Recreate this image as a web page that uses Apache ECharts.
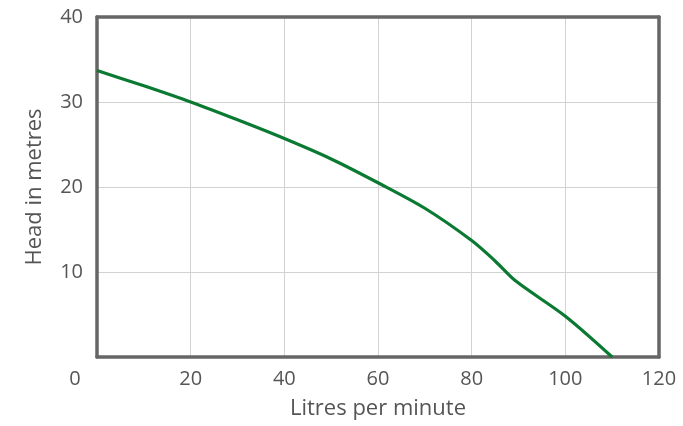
<!DOCTYPE html>
<html><head><meta charset="utf-8">
<script src="https://cdn.jsdelivr.net/npm/echarts@6/dist/echarts.min.js"></script>
<style>html,body{margin:0;padding:0;background:#fff}#c{width:683px;height:426px}</style>
</head><body><div id="c"></div>
<script>
const flowLpm = [0, 10, 20, 30, 40, 50, 60, 70, 80, 85, 89.5, 100, 110];
const headM   = [33.7, 31.9, 30.0, 27.9, 25.7, 23.3, 20.5, 17.5, 13.7, 11.3, 8.9, 4.8, 0];
const xTicks = [0, 20, 40, 60, 80, 100, 120];
const yTicks = [10, 20, 30, 40];
const xName = 'Litres per minute';
const yName = 'Head in metres';

const FONT = '"Open Sans", "Noto Sans", sans-serif';
const TXT = '#555';
const FRAME = {show: true, onZero: false, lineStyle: {color: '#666', width: 3.5}};
const chart = echarts.init(document.getElementById('c'), null, {renderer: 'canvas'});
chart.setOption({
  animation: false,
  grid: {left: 97, right: 24, top: 17, bottom: 69},
  xAxis: [{
    type: 'value', min: 0, max: 120, interval: 20,
    name: xName, nameLocation: 'middle', nameGap: 41,
    nameTextStyle: {fontFamily: FONT, fontSize: 22, color: TXT},
    axisLine: FRAME, axisTick: {show: false},
    splitLine: {show: true, lineStyle: {color: '#d2d2d2', width: 1}},
    axisLabel: {
      fontFamily: FONT, fontSize: 20, color: TXT, margin: 12,
      formatter: v => xTicks.indexOf(v) === 0 ? '{o|' + v + '}' : String(v),
      rich: {o: {fontFamily: FONT, fontSize: 20, color: TXT, padding: [0, 44, 0, 0]}}
    }
  }, {
    type: 'value', min: 0, max: 120, position: 'top',
    axisLine: FRAME, axisTick: {show: false}, axisLabel: {show: false}, splitLine: {show: false}
  }],
  yAxis: [{
    type: 'value', min: 0, max: 40, interval: 10,
    name: yName, nameLocation: 'middle', nameGap: 51, nameRotate: 90,
    nameTextStyle: {fontFamily: FONT, fontSize: 22, color: TXT},
    axisLine: FRAME, axisTick: {show: false},
    splitLine: {show: true, lineStyle: {color: '#d2d2d2', width: 1}},
    axisLabel: {
      fontFamily: FONT, fontSize: 20, color: TXT, margin: 14,
      formatter: v => yTicks.indexOf(v) >= 0 ? String(v) : ''
    }
  }, {
    type: 'value', min: 0, max: 40, position: 'right',
    axisLine: FRAME, axisTick: {show: false}, axisLabel: {show: false}, splitLine: {show: false}
  }],
  series: [{
    type: 'line', data: flowLpm.map((x, i) => [x, headM[i]]),
    smooth: 0.3, showSymbol: false, clip: false,
    lineStyle: {color: '#0a7a32', width: 3.2}
  }]
});
</script></body></html>
